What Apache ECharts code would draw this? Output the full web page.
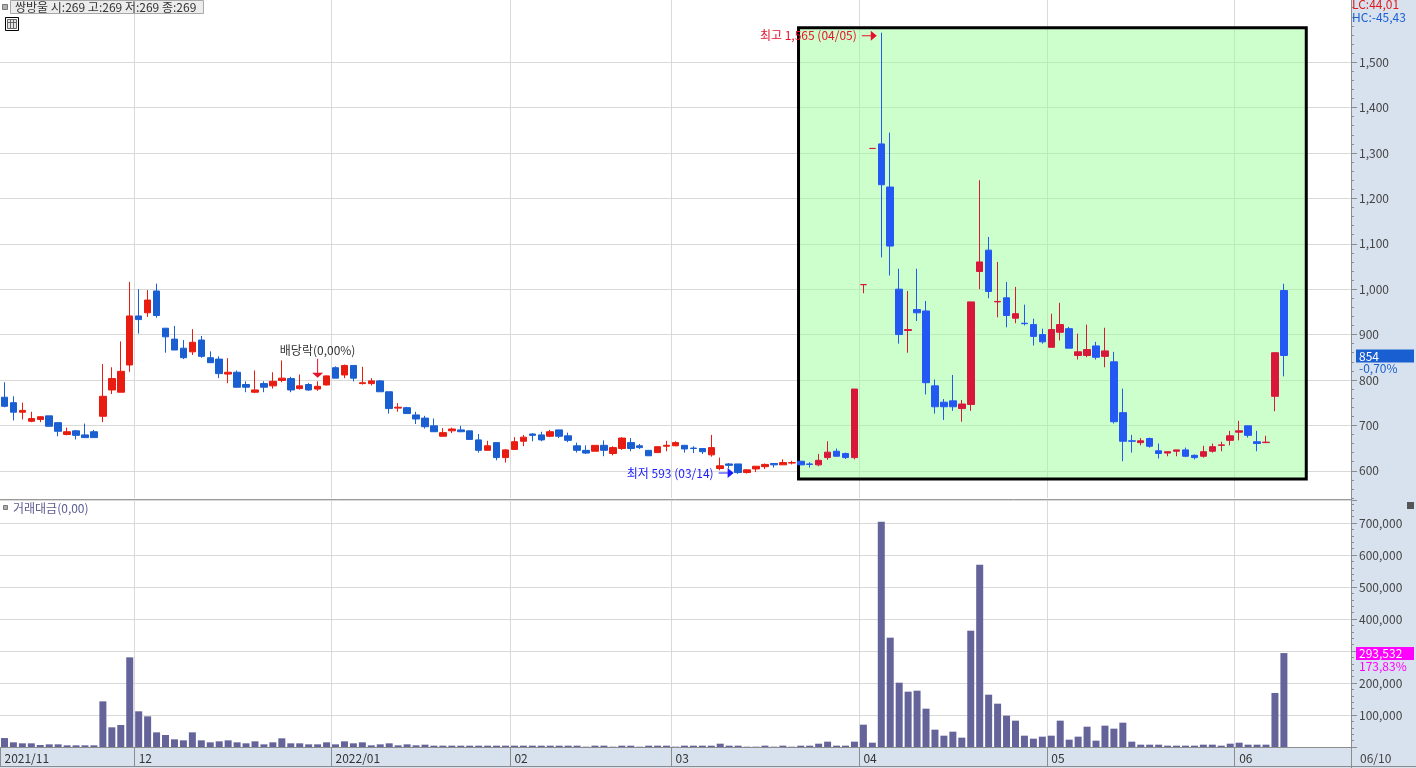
<!DOCTYPE html>
<html>
<head>
<meta charset="utf-8">
<title>쌍방울</title>
<script src="https://cdn.jsdelivr.net/npm/echarts@6/dist/echarts.min.js"></script>
<style>
  html, body { margin: 0; padding: 0; background: #fff; }
  #main { width: 1416px; height: 768px; }
</style>
</head>
<body>
<div id="main"></div>
<script>
// 거래일 (월별)
var tradeMonths = ['2021/11', '2021/12', '2022/01', '2022/02', '2022/03', '2022/04', '2022/05', '2022/06'];
var tradeDays = [
  [10, 11, 12, 15, 16, 17, 18, 19, 22, 23, 24, 25, 26, 29, 30],
  [1, 2, 3, 6, 7, 8, 9, 10, 13, 14, 15, 16, 17, 20, 21, 22, 23, 24, 27, 28, 29, 30],
  [3, 4, 5, 6, 7, 10, 11, 12, 13, 14, 17, 18, 19, 20, 21, 24, 25, 26, 27, 28],
  [3, 4, 7, 8, 9, 10, 11, 14, 15, 16, 17, 18, 21, 22, 23, 24, 25, 28],
  [2, 3, 4, 7, 8, 10, 11, 14, 15, 16, 17, 18, 21, 22, 23, 24, 25, 28, 29, 30, 31],
  [1, 4, 5, 6, 7, 8, 11, 12, 13, 14, 15, 18, 19, 20, 21, 22, 25, 26, 27, 28, 29],
  [2, 3, 4, 6, 9, 10, 11, 12, 13, 16, 17, 18, 19, 20, 23, 24, 25, 26, 27, 30, 31],
  [2, 3, 7, 8, 9, 10]
];

// 시가 / 종가 / 저가 / 고가
var opens = [
  762, 750, 729, 709, 713, 721, 706, 680, 688, 679,
  686, 720, 778, 773, 833, 941, 948, 996, 914, 890,
  870, 862, 888, 849, 846, 813, 817, 790, 773, 792,
  787, 799, 803, 781, 790, 780, 789, 827, 811, 832,
  792, 792, 798, 774, 738, 739, 723, 716, 699, 676,
  688, 690, 688, 668, 645, 662, 629, 647, 665, 681,
  679, 676, 690, 677, 655, 645, 643, 656, 638, 649,
  662, 655, 645, 640, 654, 655, 656, 650, 649, 635,
  605, 615, 615, 596, 604, 609, 616, 613, 617, 621,
  615, 613, 629, 643, 638, 629, 1010, 1310, 1320, 1225,
  1000, 909, 955, 952, 787, 751, 754, 737, 746, 1039,
  1086, 972, 981, 936, 925, 922, 900, 872, 905, 913,
  854, 854, 875, 852, 840, 728, 666, 662, 671, 644,
  639, 643, 646, 634, 632, 643, 656, 667, 685, 699,
  664, 662, 764, 997
];
var closes = [
  742, 729, 733, 715, 719, 698, 687, 686, 678, 673,
  673, 764, 803, 819, 941, 933, 976, 942, 895, 866,
  849, 883, 852, 838, 814, 817, 784, 784, 778, 784,
  797, 804, 778, 787, 778, 786, 809, 804, 832, 804,
  794, 798, 774, 737, 740, 726, 714, 697, 686, 684,
  692, 686, 669, 645, 655, 629, 646, 664, 674, 678,
  668, 686, 676, 667, 645, 639, 656, 645, 651, 672,
  649, 651, 633, 653, 656, 662, 648, 649, 642, 651,
  611, 612, 596, 602, 610, 614, 613, 618, 618, 613,
  614, 623, 641, 632, 629, 780, 1010, 1310, 1230, 1095,
  900, 911, 948, 794, 741, 741, 741, 747, 972, 1060,
  995, 973, 942, 946, 924, 896, 884, 911, 922, 870,
  862, 867, 850, 864, 708, 665, 665, 666, 654, 638,
  642, 646, 632, 629, 642, 653, 657, 677, 688, 678,
  660, 663, 860, 854
];
var lows = [
  740, 711, 713, 707, 707, 698, 676, 678, 669, 673,
  673, 707, 769, 773, 818, 902, 939, 937, 860, 866,
  846, 855, 849, 838, 804, 793, 783, 773, 771, 773,
  781, 795, 773, 779, 776, 776, 788, 804, 804, 797,
  790, 788, 774, 726, 730, 726, 703, 693, 686, 676,
  683, 685, 669, 640, 645, 623, 618, 647, 654, 665,
  665, 674, 672, 663, 640, 637, 643, 632, 634, 646,
  643, 648, 633, 640, 643, 654, 640, 639, 637, 631,
  601, 605, 593, 594, 597, 604, 607, 613, 614, 613,
  607, 610, 624, 631, 626, 625, 991, 1310, 1070, 1030,
  880, 860, 930, 768, 726, 712, 732, 708, 732, 1000,
  980, 938, 916, 925, 920, 876, 880, 872, 887, 870,
  845, 850, 845, 828, 704, 621, 640, 656, 651, 627,
  632, 632, 630, 625, 629, 640, 643, 656, 667, 673,
  643, 661, 731, 808
];
var highs = [
  795, 764, 750, 730, 720, 721, 706, 695, 690, 704,
  690, 835, 828, 885, 1016, 1000, 998, 1012, 914, 919,
  888, 912, 897, 863, 852, 848, 821, 797, 821, 797,
  817, 843, 807, 812, 793, 797, 810, 830, 834, 833,
  829, 804, 800, 774, 749, 741, 730, 721, 715, 694,
  695, 699, 688, 681, 666, 662, 648, 674, 679, 683,
  686, 690, 690, 684, 662, 656, 656, 667, 654, 674,
  672, 659, 645, 654, 666, 665, 657, 654, 649, 679,
  629, 617, 615, 603, 610, 616, 616, 625, 622, 621,
  619, 637, 665, 649, 640, 780, 1010, 1310, 1565, 1345,
  1045, 996, 1045, 974, 801, 758, 811, 756, 972, 1240,
  1115, 1060, 1016, 1005, 966, 935, 913, 946, 970, 917,
  902, 922, 884, 915, 862, 781, 679, 672, 673, 660,
  642, 646, 651, 636, 655, 660, 664, 688, 710, 699,
  688, 677, 860, 1012
];
// 거래대금
var volumes = [
  28000, 14600, 11500, 11500, 6300, 8300, 8300, 5200, 5200, 5200,
  5200, 142700, 61500, 68800, 280200, 111500, 95800, 45800, 37500, 24000,
  20800, 45800, 20800, 14600, 17700, 20800, 14600, 11500, 17700, 8300,
  14600, 27100, 11500, 11500, 8300, 8300, 14600, 8300, 17700, 11500,
  14600, 5200, 8300, 11500, 5200, 8300, 5200, 7300, 4200, 4200,
  4200, 4200, 4200, 4200, 4200, 4200, 4200, 4200, 4200, 4200,
  4200, 4200, 4200, 4200, 4200, 1000, 4200, 4200, 1000, 4200,
  4200, 1000, 4200, 4200, 4200, 1000, 4200, 4200, 4200, 4200,
  10400, 4200, 4200, 1000, 1000, 4200, 1000, 4200, 1000, 4200,
  4200, 10400, 16700, 4200, 4200, 16700, 69800, 13500, 704200, 341700,
  201000, 172900, 176000, 119800, 54200, 35400, 47900, 29200, 363500, 569800,
  163500, 135400, 97900, 82300, 35400, 26000, 32300, 35400, 82300, 22900,
  32300, 63500, 19800, 66700, 57300, 76000, 16700, 7300, 7300, 7300,
  4200, 4200, 4200, 4200, 7300, 7300, 4200, 10400, 13500, 7300,
  7300, 7300, 168860, 293532
];

var priceTicks = [600, 700, 800, 900, 1000, 1100, 1200, 1300, 1400, 1500];
var exDivDate = '2021/12/29';
var padSlots = 7;                 // 오른쪽 빈 공간
var boxFrom = 88.75, boxTo = 145.5; // 강조 박스 구간 (봉 번호)
var boxTop = 1576, boxBottom = 582;

var RED = '#e81c10', BLUE = '#1a5fd2';
var RED_BOX = '#d8173b', BLUE_BOX = '#2458f2';
var GRID = '#d9d9d9', AXIS = '#8c8c8c';
var FONT = '"Noto Sans CJK KR", "Noto Sans", sans-serif';

function pad2(n) { return (n < 10 ? '0' : '') + n; }
function comma(n) { return String(n).replace(/\B(?=(\d{3})+(?!\d))/g, ','); }

var dates = [];
tradeMonths.forEach(function (m, k) {
  tradeDays[k].forEach(function (d) { dates.push(m + '/' + pad2(d)); });
});
var categories = dates.slice();
for (var p = 1; p <= padSlots; p++) categories.push('pad' + p);

function monthLabel(i) {
  if (i >= dates.length) return '';
  var ym = dates[i].slice(0, 7);
  if (i > 0 && dates[i - 1].slice(0, 7) === ym) return '';
  if (i === 0 || ym.slice(5) === '01') return ym;
  return ym.slice(5);
}
function isMonthStart(i) { return monthLabel(i) !== ''; }

var minorTicks = [];
for (var t = 540; t <= 1636; t += 20) minorTicks.push(t);

// 양봉(빨강) / 음봉(파랑), 같으면 전일 종가와 비교
function isUp(i) {
  if (closes[i] !== opens[i]) return closes[i] > opens[i];
  return i === 0 || closes[i] >= closes[i - 1];
}
var candleData = dates.map(function (d, i) {
  var v = [opens[i], closes[i], lows[i], highs[i]];
  if (i >= boxFrom) {
    var c = isUp(i) ? RED_BOX : BLUE_BOX;
    return { value: v, itemStyle: { color: c, color0: c, borderColor: c, borderColor0: c } };
  }
  return v;
});

var hiIdx = 0, loIdx = 0;
for (var i = 1; i < dates.length; i++) {
  if (highs[i] > highs[hiIdx]) hiIdx = i;
  if (lows[i] < lows[loIdx]) loIdx = i;
}
var exIdx = dates.indexOf(exDivDate);
var n = dates.length;
var lastClose = closes[n - 1];
var chgPct = ((closes[n - 1] - closes[n - 2]) / closes[n - 2] * 100).toFixed(2).replace('.', ',');
var lastVol = volumes[n - 1];
var volPct = (volumes[n - 1] / volumes[n - 2] * 100).toFixed(2).replace('.', ',');

var arrowRight = 'path://M0,4.5 L9,4.5 L9,0 L15,5 L9,10 L9,5.5 L0,5.5 Z';
var arrowDown = 'path://M5,0 L6,0 L6,14 L11,14 L5.5,19 L0,14 L5,14 Z';

var chart = echarts.init(document.getElementById('main'));

var option = {
  animation: false,
  backgroundColor: '#fff',
  textStyle: { fontFamily: FONT, fontSize: 12 },
  grid: [
    { left: 0, right: 65, top: 0, height: 498, containLabel: false, outerBoundsMode: 'none' },
    { left: 0, right: 65, top: 500, height: 247, containLabel: false, outerBoundsMode: 'none' }
  ],
  xAxis: [
    {
      type: 'category', gridIndex: 0, data: categories, boundaryGap: true,
      axisLine: { show: false, onZero: false }, axisTick: { show: false }, axisLabel: { show: false },
      splitLine: { show: true, interval: function (i) { return i > 0 && isMonthStart(i); }, lineStyle: { color: GRID } }
    },
    {
      type: 'category', gridIndex: 1, data: categories, boundaryGap: true,
      axisLine: { show: true, onZero: false, lineStyle: { color: AXIS } },
      axisTick: { show: true, interval: function (i) { return isMonthStart(i); }, length: 19, lineStyle: { color: AXIS } },
      axisLabel: {
        interval: function (i) { return isMonthStart(i); },
        formatter: function (v, i) { return monthLabel(i); },
        align: 'left', margin: 5, color: '#333', fontSize: 12
      },
      splitLine: { show: true, interval: function (i) { return i > 0 && isMonthStart(i); }, lineStyle: { color: GRID } }
    },
    {
      // 봉 번호 기준 보조축 (강조 박스용)
      type: 'value', gridIndex: 0, show: false, min: -0.5, max: categories.length - 0.5,
      axisLine: { onZero: false }
    }
  ],
  yAxis: [
    {
      type: 'value', gridIndex: 0, position: 'right', min: 540, max: 1637,
      axisLine: { show: true, onZero: false, lineStyle: { color: AXIS } },
      axisTick: { show: true, length: 6, customValues: priceTicks, lineStyle: { color: AXIS } },
      axisLabel: { customValues: priceTicks, formatter: function (v) { return comma(v); }, color: '#444', margin: 8, fontSize: 12 },
      splitLine: { show: true, lineStyle: { color: GRID } }
    },
    {
      type: 'value', gridIndex: 0, position: 'right', min: 540, max: 1637,
      axisLine: { show: false, onZero: false },
      axisTick: { show: true, length: 3, customValues: minorTicks, lineStyle: { color: AXIS } },
      axisLabel: { show: false },
      splitLine: { show: false }
    },
    {
      type: 'value', gridIndex: 1, position: 'right', min: 0, max: 771900, interval: 100000,
      axisLine: { show: true, onZero: false, lineStyle: { color: AXIS } },
      axisTick: { show: true, length: 6, lineStyle: { color: AXIS } },
      minorTick: { show: true, splitNumber: 5, length: 3, lineStyle: { color: AXIS } },
      axisLabel: { showMinLabel: false, showMaxLabel: false, formatter: function (v) { return comma(v); }, color: '#444', margin: 8, fontSize: 12 },
      splitLine: { show: true, lineStyle: { color: GRID } },
      minorSplitLine: { show: false }
    }
  ],
  series: [
    {
      name: 'box', type: 'line', xAxisIndex: 2, yAxisIndex: 0, data: [], silent: true,
      markArea: {
        silent: true,
        itemStyle: { color: 'rgba(153,255,153,0.5)', borderColor: '#000', borderWidth: 3 },
        data: [[{ xAxis: boxFrom, yAxis: boxTop }, { xAxis: boxTo, yAxis: boxBottom }]]
      }
    },
    {
      name: '쌍방울', type: 'candlestick', xAxisIndex: 0, yAxisIndex: 0,
      data: candleData, barWidth: 7,
      itemStyle: { color: RED, color0: BLUE, borderColor: RED, borderColor0: BLUE, borderWidth: 1 },
      markPoint: {
        silent: true,
        data: [
          {
            coord: [hiIdx, highs[hiIdx]], symbol: arrowRight, symbolSize: [15, 10], symbolOffset: [-12, 3],
            itemStyle: { color: '#e8102a' },
            label: { show: true, position: 'left', distance: 5, color: '#e8102a', fontSize: 12,
              formatter: '최고 ' + comma(highs[hiIdx]) + ' (' + dates[hiIdx].slice(5) + ')' }
          },
          {
            coord: [loIdx, lows[loIdx]], symbol: arrowRight, symbolSize: [15, 10], symbolOffset: [-12, -1],
            itemStyle: { color: '#1a1aff' },
            label: { show: true, position: 'left', distance: 5, color: '#1a1aff', fontSize: 12,
              formatter: '최저 ' + comma(lows[loIdx]) + ' (' + dates[loIdx].slice(5) + ')' }
          },
          {
            coord: [exIdx, highs[exIdx]], symbol: arrowDown, symbolSize: [11, 19], symbolOffset: [0, -13],
            itemStyle: { color: '#e8102a' },
            label: { show: true, position: 'top', distance: 2, color: '#333', fontSize: 12, formatter: '배당락(0,00%)' }
          }
        ]
      },
      markLine: {
        silent: true, symbol: ['none', 'none'],
        lineStyle: { color: 'transparent', width: 0 },
        data: [{ yAxis: lastClose }],
        label: {
          show: true, position: 'end', distance: 5, padding: [13, 0, 0, 0],
          formatter: '{a|' + comma(lastClose) + '}\n{b|' + chgPct + '%}',
          rich: {
            a: { backgroundColor: BLUE, color: '#fff', width: 52, padding: [0, 3], lineHeight: 13, height: 13, fontSize: 12 },
            b: { color: BLUE, lineHeight: 12, fontSize: 12, padding: [0, 3] }
          }
        }
      }
    },
    {
      name: '거래대금', type: 'bar', xAxisIndex: 1, yAxisIndex: 2,
      data: volumes, barWidth: 7,
      itemStyle: { color: '#64649a' },
      markLine: {
        silent: true, symbol: ['none', 'none'],
        lineStyle: { color: 'transparent', width: 0 },
        data: [{ yAxis: lastVol }],
        label: {
          show: true, position: 'end', distance: 5, padding: [13, 0, 0, 0],
          formatter: '{a|' + comma(lastVol) + '}\n{b|' + volPct + '%}',
          rich: {
            a: { backgroundColor: '#ff00ff', color: '#fff', width: 52, padding: [0, 3], lineHeight: 13, height: 13, fontSize: 12 },
            b: { color: '#ff00ff', lineHeight: 12, fontSize: 12, padding: [0, 3] }
          }
        }
      }
    }
  ],
  graphic: [
    { type: 'rect', z: -100, shape: { x: 1352, y: 0, width: 64, height: 768 }, style: { fill: '#d8e2ee' } },
    { type: 'rect', z: -100, shape: { x: 0, y: 748, width: 1416, height: 20 }, style: { fill: '#d8e2ee' } },
    { type: 'line', z: 10, shape: { x1: 0, y1: 499.5, x2: 1351, y2: 499.5 }, style: { stroke: '#9a9a9a', lineWidth: 1 } },
    { type: 'line', z: 10, shape: { x1: 1351.5, y1: 0, x2: 1351.5, y2: 768 }, style: { stroke: AXIS, lineWidth: 1 } },
    { type: 'line', z: 10, shape: { x1: 0, y1: 766.5, x2: 1416, y2: 766.5 }, style: { stroke: AXIS, lineWidth: 1 } },
    // 상단 타이틀
    { type: 'rect', z: 10, shape: { x: 2.5, y: 4.5, width: 5, height: 5 }, style: { fill: '#b0b0b0', stroke: '#777' } },
    { type: 'rect', z: 10, shape: { x: 10.5, y: 0.5, width: 193, height: 13 }, style: { fill: '#ececec', stroke: '#a8a8a8' } },
    { type: 'text', z: 11, style: { text: '쌍방울 시:269 고:269 저:269 종:269', x: 15, y: 7, fill: '#333', font: '12px ' + FONT,
      verticalAlign: 'middle', textVerticalAlign: 'middle' } },
    // 표 아이콘
    { type: 'rect', z: 10, shape: { x: 5.5, y: 17.5, width: 13, height: 13 }, style: { fill: '#fff', stroke: '#000' } },
    { type: 'rect', z: 10, shape: { x: 7.5, y: 19.5, width: 9, height: 9 }, style: { fill: '#e4e4e4', stroke: '#666' } },
    { type: 'line', z: 11, shape: { x1: 10.5, y1: 19.5, x2: 10.5, y2: 28.5 }, style: { stroke: '#666' } },
    { type: 'line', z: 11, shape: { x1: 13.5, y1: 19.5, x2: 13.5, y2: 28.5 }, style: { stroke: '#666' } },
    { type: 'line', z: 11, shape: { x1: 7.5, y1: 22.5, x2: 16.5, y2: 22.5 }, style: { stroke: '#666' } },
    // 우측 상단
    { type: 'text', z: 11, style: { text: 'LC:44,01', x: 1352, y: 4, fill: '#e31b1b', font: '12px ' + FONT,
      verticalAlign: 'middle', textVerticalAlign: 'middle' } },
    { type: 'text', z: 11, style: { text: 'HC:-45,43', x: 1352, y: 17, fill: '#1a5fd6', font: '12px ' + FONT,
      verticalAlign: 'middle', textVerticalAlign: 'middle' } },
    // 거래대금 타이틀
    { type: 'rect', z: 10, shape: { x: 3.5, y: 505.5, width: 4, height: 4 }, style: { fill: '#b0b0b0', stroke: '#777' } },
    { type: 'text', z: 11, style: { text: '거래대금(0,00)', x: 13, y: 508, fill: '#5b5b8f', font: '12px ' + FONT,
      verticalAlign: 'middle', textVerticalAlign: 'middle' } },
    { type: 'rect', z: 10, shape: { x: 1407, y: 502, width: 7, height: 7 }, style: { fill: '#555' } },
    // 마지막 날짜
    { type: 'text', z: 11, style: { text: dates[n - 1].slice(5), x: 1360, y: 758, fill: '#444', font: '12px ' + FONT,
      verticalAlign: 'middle', textVerticalAlign: 'middle' } }
  ]
};

chart.setOption(option);
</script>
</body>
</html>
